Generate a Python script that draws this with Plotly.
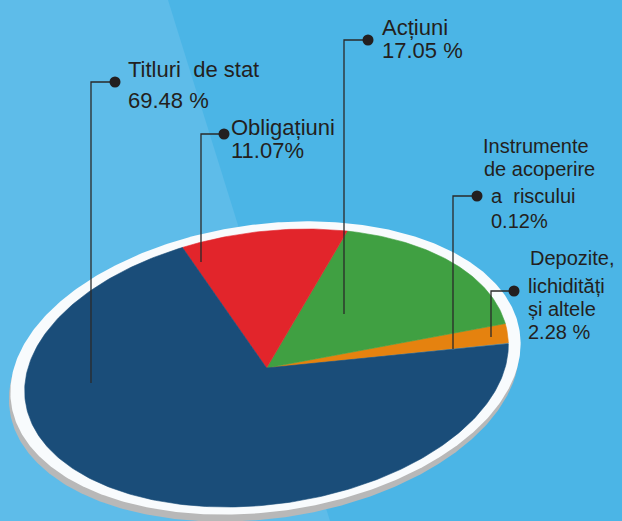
import numpy as np
import plotly.graph_objects as go

# ---------------- data ----------------
categories = ["Instrumente de acoperire a riscului", "Depozite, lichidități și altele",
              "Acțiuni", "Obligațiuni", "Titluri de stat"]
values = [0.12, 2.28, 17.05, 11.07, 69.48]
label_lines = [["Instrumente", "de acoperire", "a\u00a0 riscului"],
               ["Depozite,", "lichidități", "și altele"],
               ["Acțiuni"],
               ["Obligațiuni"],
               ["Titluri\u00a0 de stat"]]
pct_sep = ["", " ", " ", "", " "]
colors = ["#3F97C0", "#E5820F", "#40A042", "#E2252B", "#1A4D79"]

# ---------------- geometry / style (not data) ----------------
W, H = 622, 521
cx, cy = 266.5, 368.0          # pie centre (px)
A, S, Bv = 238.5, 40.0, 139.0  # affine ellipse parameters (tilted disc)
start_deg = 10.0
TXT = "#231F20"
FONT = "Liberation Sans, Arial, sans-serif"


def ell(t, scale=1.0, dx=0.0, dy=0.0):
    x = cx + dx + scale * (A * np.cos(t) + S * np.sin(t))
    y = cy + dy - scale * Bv * np.sin(t)
    return x, y


fig = go.Figure()

# shadow and white rim of the disc
tt = np.linspace(0, 2 * np.pi, 500)
for sc, dx, dy, col in [(1.055, -2.5, 7.0, "#B8B8B8"), (1.055, -1.0, 0.0, "#F8FBFD")]:
    x, y = ell(tt, sc, dx, dy)
    fig.add_trace(go.Scatter(x=x, y=y, mode="lines", fill="toself", fillcolor=col,
                             line=dict(width=0, color=col), hoverinfo="skip", showlegend=False))

# slices
total = sum(values)
ang = np.deg2rad(start_deg)
for v, col, name in zip(values, colors, categories):
    span = 2 * np.pi * v / total
    n = max(4, int(400 * v / total))
    t = np.linspace(ang, ang + span, n)
    x, y = ell(t)
    xs = np.concatenate([[cx], x, [cx]])
    ys = np.concatenate([[cy], y, [cy]])
    fig.add_trace(go.Scatter(x=xs, y=ys, mode="lines", fill="toself", fillcolor=col,
                             line=dict(width=0.6, color=col), name=name,
                             hoverinfo="name", showlegend=False))
    ang += span

# label layout: dot position, leader corner x, leader end y, text x, baselines
label_layout = [
    dict(dot=(477, 196), lx=453, ly=349, tx=[484, 485, 492, 492], base=[153, 176, 203, 228], fs=20),
    dict(dot=(514, 291), lx=491, ly=337, tx=[531, 529, 529, 529], base=[265, 293, 316, 339], fs=20),
    dict(dot=(368, 40), lx=344, ly=314, tx=[383, 383], base=[35, 58], fs=22),
    dict(dot=(224, 134), lx=201, ly=262, tx=[232, 232], base=[135, 158], fs=22),
    dict(dot=(115, 82), lx=91, ly=383, tx=[129, 129], base=[77, 108], fs=22),
]

annotations = []
for i, lay in enumerate(label_layout):
    dxp, dyp = lay["dot"]
    fig.add_trace(go.Scatter(x=[dxp, lay["lx"], lay["lx"]], y=[dyp, dyp, lay["ly"]],
                             mode="lines", line=dict(color="#2A2A2A", width=1.3),
                             hoverinfo="skip", showlegend=False))
    fig.add_trace(go.Scatter(x=[dxp], y=[dyp], mode="markers",
                             marker=dict(size=11, color=TXT), hoverinfo="skip", showlegend=False))
    lines = label_lines[i] + [f"{values[i]:.2f}{pct_sep[i]}%"]
    for txt, x0, b in zip(lines, lay["tx"], lay["base"]):
        annotations.append(dict(x=x0 - 2, y=b - 0.35 * lay["fs"], xref="x", yref="y",
                                text=txt, showarrow=False, xanchor="left", yanchor="middle",
                                borderpad=0,
                                font=dict(family=FONT, size=lay["fs"], color=TXT)))

fig.update_layout(
    width=W, height=H, margin=dict(l=0, r=0, t=0, b=0),
    paper_bgcolor="#4BB5E6", plot_bgcolor="rgba(0,0,0,0)",
    xaxis=dict(range=[0, W], visible=False, fixedrange=True),
    yaxis=dict(range=[H, 0], visible=False, fixedrange=True),
    shapes=[dict(type="path", xref="x", yref="y", layer="below",
                 path="M0,0 L168,0 L330,521 L0,521 Z",
                 fillcolor="#5EBCE9", line=dict(width=0))],
    annotations=annotations,
)

fig.write_html("out.html", config={"displayModeBar": False},
               post_script="document.body.style.margin='0';document.body.style.padding='0';")
